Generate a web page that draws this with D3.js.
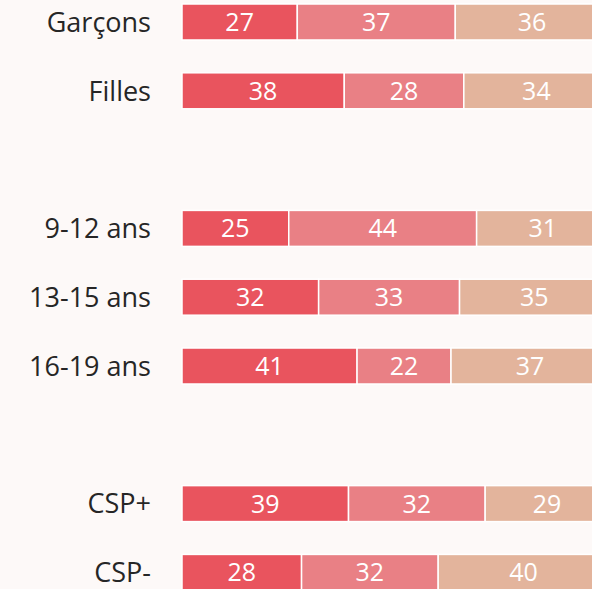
<!DOCTYPE html>
<meta charset="utf-8">
<style>
body { margin: 0; background: #fdf9f8; }
svg { display: block; }
.label { font-family: "Open Sans", sans-serif; fill: #262626; }
.value { font-family: "Open Sans", sans-serif; fill: #fff; }
</style>
<svg width="592" height="589"></svg>
<script src="https://d3js.org/d3.v7.min.js"></script>
<script>

var svg = d3.select("svg");

// rows, "" = empty spacer row between groups
var categories = ["Garçons", "Filles", "", "9-12 ans", "13-15 ans", "16-19 ans", "", "CSP+", "CSP-"];
var seriesA = [27, 38, null, 25, 32, 41, null, 39, 28];
var seriesB = [37, 28, null, 44, 33, 22, null, 32, 32];
var seriesC = [36, 34, null, 31, 35, 37, null, 29, 40];
var colors = ["#e9545e", "#e98085", "#e3b49c"];

var slots = categories.map(function(c, i) { return "r" + i; });

var x = d3.scaleLinear()
    .domain([0, 100])
    .range([182, 609]);

var y = d3.scaleBand()
    .domain(slots)
    .range([4, 590.4])
    .paddingInner(0.477)
    .paddingOuter(0);

var rows = categories.map(function(c, i) {
  return { name: c, key: slots[i], values: [seriesA[i], seriesB[i], seriesC[i]] };
}).filter(function(d) { return d.name !== ""; });

var g = svg.selectAll("g.row")
    .data(rows)
  .enter().append("g")
    .attr("class", "row");

g.append("text")
    .attr("class", "label")
    .attr("x", 151)
    .attr("y", function(d) { return y(d.key) + y.bandwidth() / 2; })
    .attr("dy", "0.36em")
    .attr("text-anchor", "end")
    .attr("font-size", 27)
    .text(function(d) { return d.name; });

g.each(function(d) {
  var start = 0;
  var segs = d.values.map(function(v, j) {
    var s = { x0: start, x1: start + v, v: v, j: j };
    start += v;
    return s;
  });
  var row = d3.select(this);
  row.selectAll("rect")
      .data(segs)
    .enter().append("rect")
      .attr("x", function(s) { return x(s.x0); })
      .attr("width", function(s) { return x(s.x1) - x(s.x0); })
      .attr("y", y(d.key))
      .attr("height", y.bandwidth())
      .attr("fill", function(s) { return colors[s.j]; })
      .attr("stroke", "#fff")
      .attr("stroke-width", 1.5);
  row.selectAll("text.value")
      .data(segs)
    .enter().append("text")
      .attr("class", "value")
      .attr("x", function(s) { return (x(s.x0) + x(s.x1)) / 2; })
      .attr("y", y(d.key) + y.bandwidth() / 2)
      .attr("dy", "0.36em")
      .attr("text-anchor", "middle")
      .attr("font-size", 25)
      .text(function(s) { return s.v; });
});

</script>
